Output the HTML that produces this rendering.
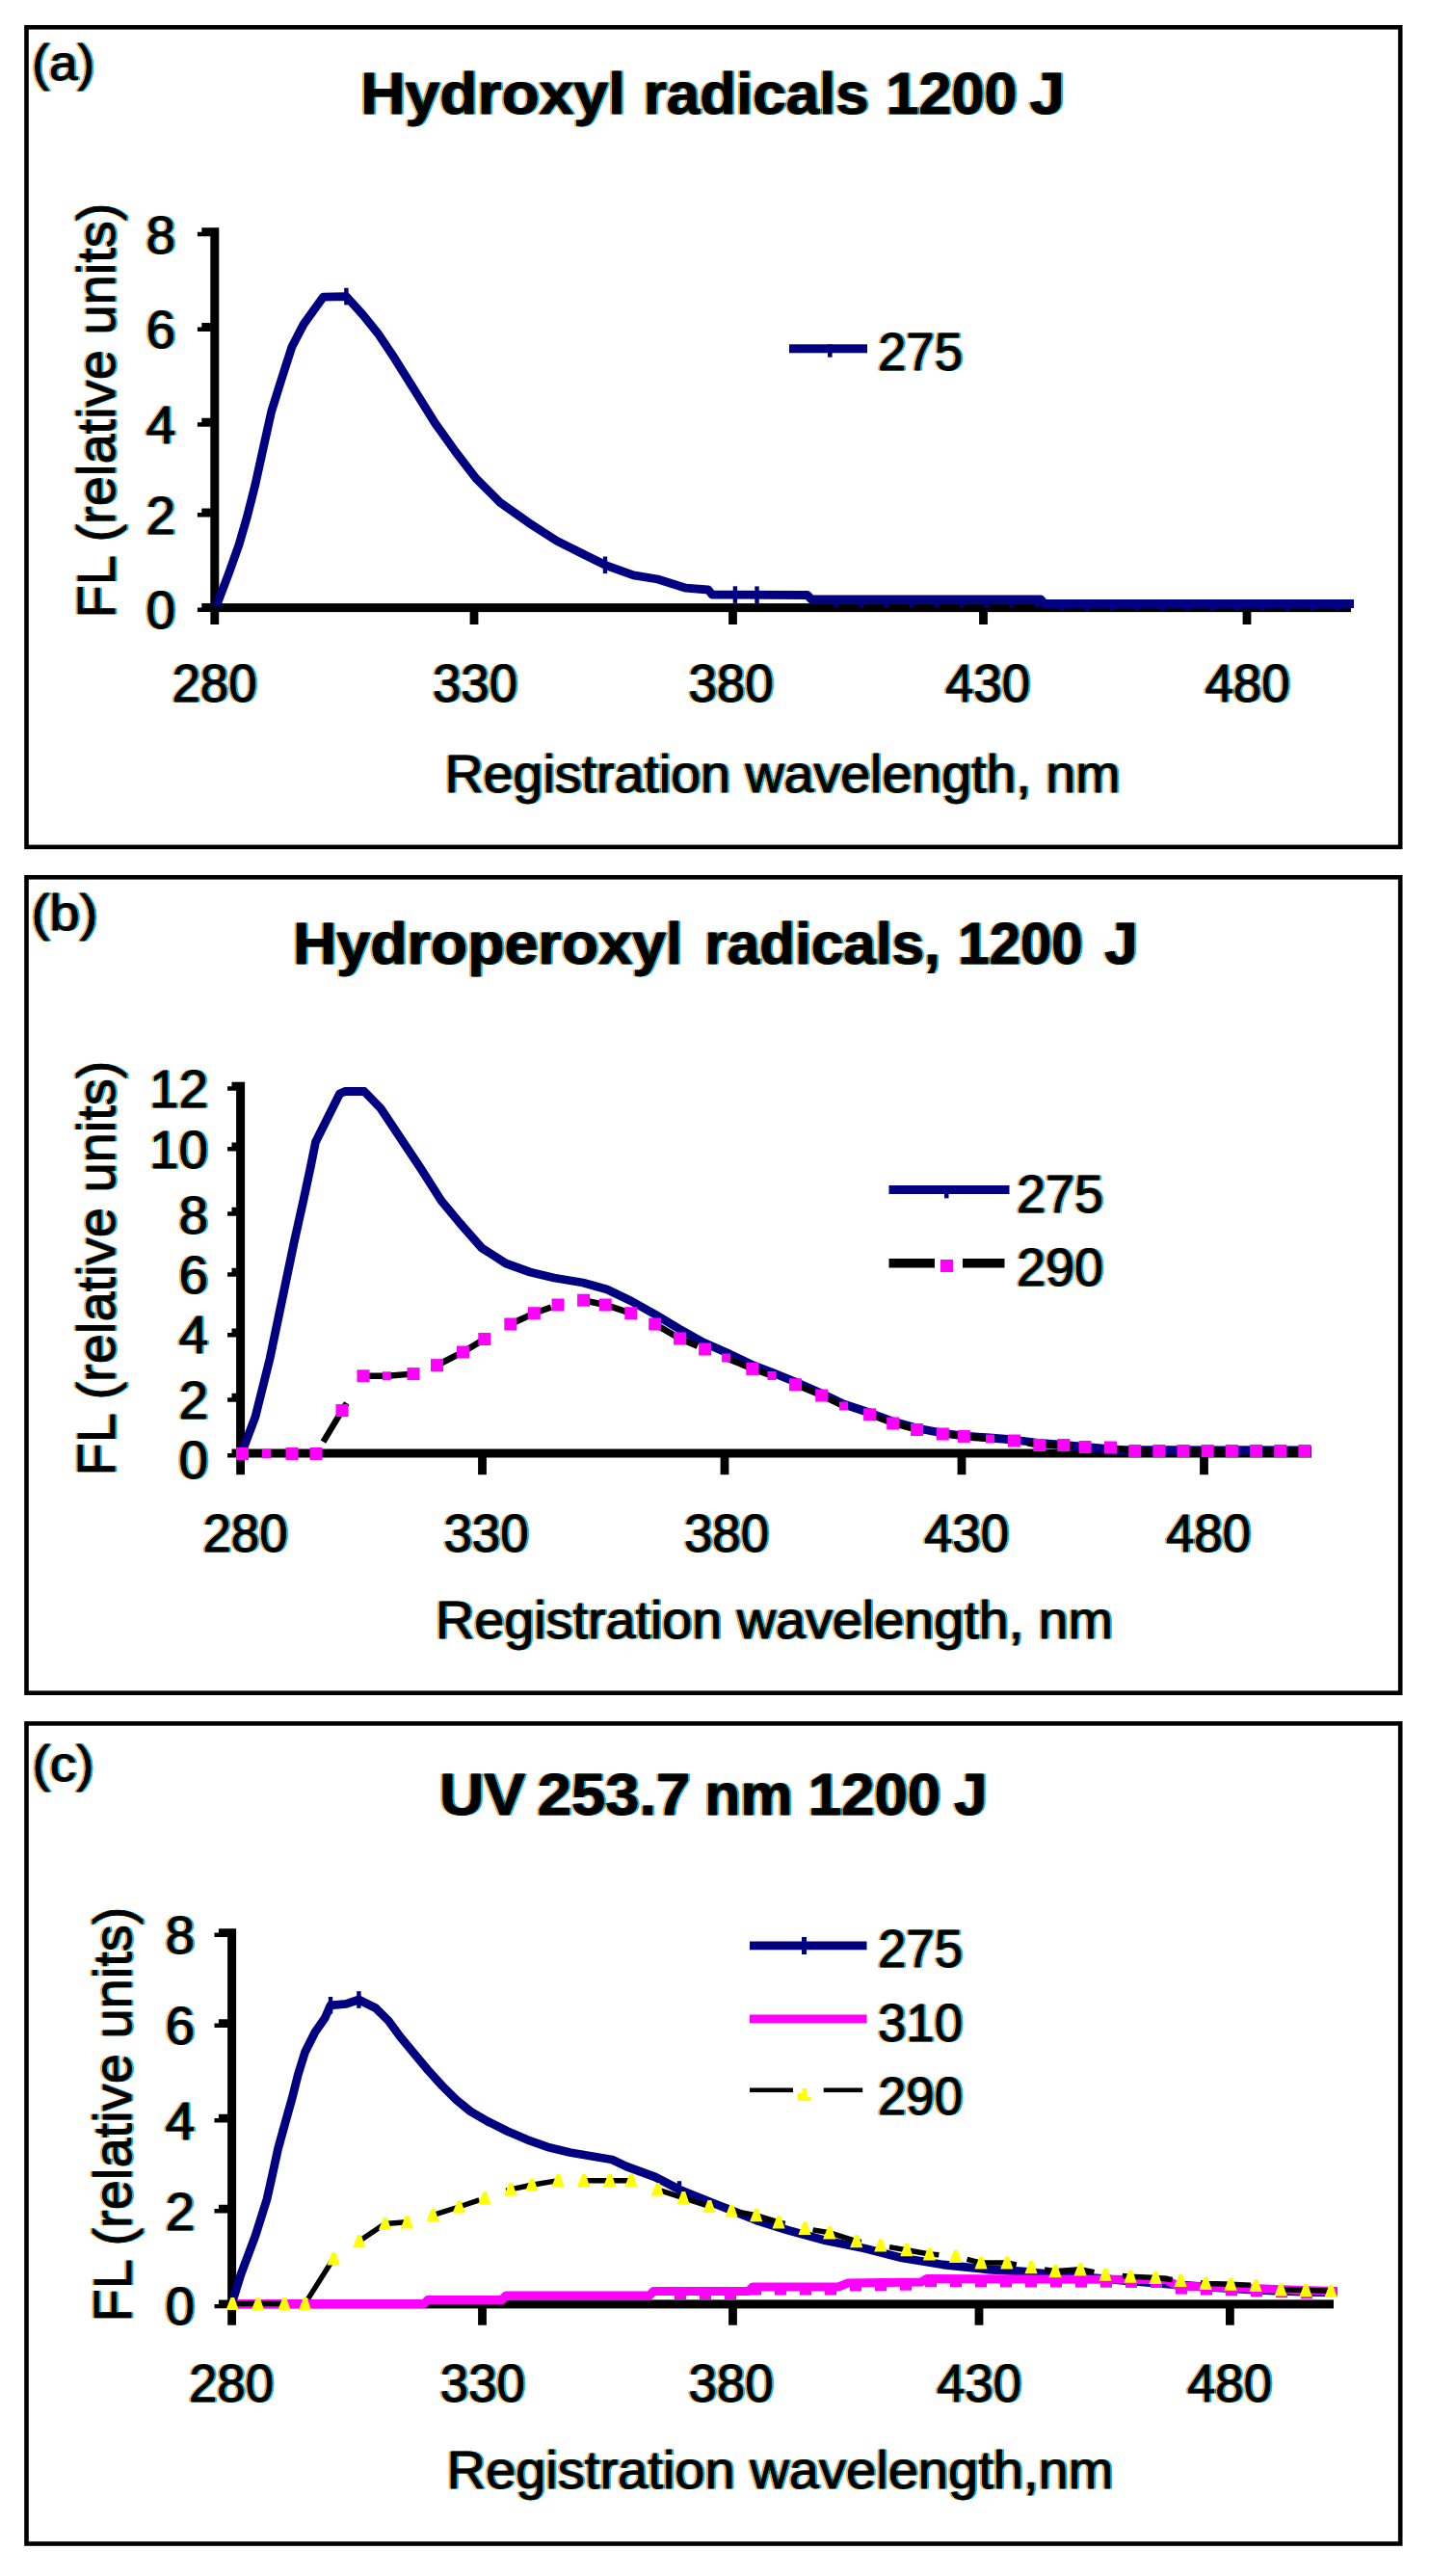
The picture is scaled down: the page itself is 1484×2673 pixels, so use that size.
<!DOCTYPE html>
<html><head><meta charset="utf-8"><title>Figure</title>
<style>html,body{margin:0;padding:0;background:#fff}svg{display:block}text{font-family:"Liberation Sans",sans-serif;fill:#000;stroke:#000;stroke-width:0.8px;stroke-linejoin:round}</style>
</head><body>
<svg width="1484" height="2673" viewBox="0 0 1484 2673">
<rect width="1484" height="2673" fill="#fff"/>
<g id="pa">
<rect x="27.50" y="28.30" width="1425.70" height="850.60" fill="#fff" stroke="#000" stroke-width="4.6"/>
<rect x="218.3" y="236.2" width="9" height="398.9" fill="#000"/>
<rect x="218.3" y="626.1" width="1183.7" height="9" fill="#000"/>
<path d="M218.8 236.25H209.3V240.70H204.9V245.15H218.8Z" fill="#000"/>
<path d="M218.8 335.05H209.3V339.50H204.9V343.95H218.8Z" fill="#000"/>
<path d="M218.8 433.85H209.3V438.30H204.9V442.75H218.8Z" fill="#000"/>
<path d="M218.8 527.55H209.3V532.00H204.9V536.45H218.8Z" fill="#000"/>
<path d="M218.8 626.05H209.3V630.50H204.9V634.95H218.8Z" fill="#000"/>
<rect x="218.4" y="630.6" width="8.8" height="17.4" fill="#000"/>
<rect x="487.6" y="630.6" width="8.8" height="17.4" fill="#000"/>
<rect x="756.1" y="630.6" width="8.8" height="17.4" fill="#000"/>
<rect x="1016.1" y="630.6" width="8.8" height="17.4" fill="#000"/>
<rect x="1289.6" y="630.6" width="8.8" height="17.4" fill="#000"/>
<polyline points="224.5,629.0 237.5,594.7 248.0,565.3 256.5,536.0 265.0,502.4 273.3,464.6 281.7,426.9 292.2,393.3 303.0,359.7 315.0,336.6 327.0,319.9 335.5,308.2 359.4,307.6 376.2,326.2 393.0,347.1 409.8,372.3 430.8,405.9 451.7,439.4 472.7,468.8 493.7,496.1 518.9,521.3 548.3,542.2 577.6,561.1 602.8,573.7 628.0,586.3 657.4,596.8 682.5,601.0 711.9,610.2 735.0,612.0 739.0,617.0 838.0,617.5 842.0,622.0 1080.0,622.0 1084.0,626.5 1405.0,626.5" fill="none" stroke="#000080" stroke-width="8.8" stroke-linejoin="round"/>
<rect x="357.2" y="298.8" width="4.4" height="17.6" fill="#000080"/>
<rect x="625.8" y="577.5" width="4.4" height="17.6" fill="#000080"/>
<rect x="760.7" y="608.3" width="4.4" height="17.6" fill="#000080"/>
<rect x="783.3" y="608.4" width="4.4" height="17.6" fill="#000080"/>
<rect x="866" y="626" width="4.4" height="4.6" fill="#000080"/>
<rect x="892" y="626" width="4.4" height="4.6" fill="#000080"/>
<rect x="918" y="626" width="4.4" height="4.6" fill="#000080"/>
<rect x="944" y="626" width="4.4" height="4.6" fill="#000080"/>
<rect x="970" y="626" width="4.4" height="4.6" fill="#000080"/>
<rect x="996" y="626" width="4.4" height="4.6" fill="#000080"/>
<rect x="1022" y="626" width="4.4" height="4.6" fill="#000080"/>
<rect x="1048" y="626" width="4.4" height="4.6" fill="#000080"/>
<rect x="1074" y="626" width="4.4" height="4.6" fill="#000080"/>
<rect x="1100" y="629.5" width="4.4" height="4.6" fill="#000080"/>
<rect x="1126" y="629.5" width="4.4" height="4.6" fill="#000080"/>
<rect x="1152" y="629.5" width="4.4" height="4.6" fill="#000080"/>
<rect x="1178" y="629.5" width="4.4" height="4.6" fill="#000080"/>
<rect x="1204" y="629.5" width="4.4" height="4.6" fill="#000080"/>
<rect x="1230" y="629.5" width="4.4" height="4.6" fill="#000080"/>
<rect x="1256" y="629.5" width="4.4" height="4.6" fill="#000080"/>
<rect x="1282" y="629.5" width="4.4" height="4.6" fill="#000080"/>
<rect x="1308" y="629.5" width="4.4" height="4.6" fill="#000080"/>
<rect x="1334" y="629.5" width="4.4" height="4.6" fill="#000080"/>
<rect x="1360" y="629.5" width="4.4" height="4.6" fill="#000080"/>
<rect x="1386" y="629.5" width="4.4" height="4.6" fill="#000080"/>
<rect x="819" y="357.3" width="81" height="9" fill="#000080"/>
<rect x="859" y="357.3" width="4.6" height="13.4" fill="#000080"/>
</g>
<g id="pb">
<rect x="27.50" y="910.30" width="1425.70" height="846.40" fill="#fff" stroke="#000" stroke-width="4.6"/>
<rect x="245.1" y="1122.7" width="9" height="389.8" fill="#000"/>
<rect x="245.1" y="1503.5" width="1115.9" height="9" fill="#000"/>
<path d="M245.6 1122.75H240.5V1127.20H236.1V1131.65H245.6Z" fill="#000"/>
<path d="M245.6 1185.55H240.5V1190.00H236.1V1194.45H245.6Z" fill="#000"/>
<path d="M245.6 1252.85H240.5V1257.30H236.1V1261.75H245.6Z" fill="#000"/>
<path d="M245.6 1315.75H240.5V1320.20H236.1V1324.65H245.6Z" fill="#000"/>
<path d="M245.6 1378.55H240.5V1383.00H236.1V1387.45H245.6Z" fill="#000"/>
<path d="M245.6 1445.85H240.5V1450.30H236.1V1454.75H245.6Z" fill="#000"/>
<path d="M245.6 1503.55H240.5V1508.00H236.1V1512.45H245.6Z" fill="#000"/>
<rect x="245.2" y="1508" width="8.8" height="22.2" fill="#000"/>
<rect x="496.1" y="1508" width="8.8" height="22.2" fill="#000"/>
<rect x="747.6" y="1508" width="8.8" height="22.2" fill="#000"/>
<rect x="993.6" y="1508" width="8.8" height="22.2" fill="#000"/>
<rect x="1245.1" y="1508" width="8.8" height="22.2" fill="#000"/>
<polyline points="251.5,1506.0 265.0,1470.0 280.0,1410.0 292.5,1350.0 305.0,1290.0 315.0,1245.0 322.5,1210.0 327.5,1185.0 340.0,1160.0 352.5,1135.0 358.0,1132.5 378.0,1132.5 395.0,1150.0 415.0,1180.0 437.0,1213.0 458.0,1246.0 478.0,1270.0 500.0,1295.0 525.0,1311.0 550.0,1320.0 575.0,1326.0 605.0,1331.0 630.0,1338.0 655.0,1350.0 680.0,1364.0 705.0,1379.0 730.0,1393.0 755.0,1404.0 780.0,1416.0 801.0,1424.0 825.5,1434.0 852.7,1446.0 875.5,1457.0 902.6,1466.0 926.7,1475.0 951.6,1482.0 978.0,1487.0 1000.0,1490.0 1027.0,1492.0 1052.0,1494.0 1079.0,1497.5 1104.0,1499.5 1126.0,1501.5 1160.0,1504.5 1361.0,1505.0" fill="none" stroke="#000080" stroke-width="8.8" stroke-linejoin="round"/>
<polyline points="251.5,1508.5 276.5,1508.5 303.0,1508.5 328.0,1508.5 355.0,1463.6 377.0,1427.8 401.3,1427.8 429.0,1425.6 453.5,1416.6 480.5,1403.0 502.8,1389.5 529.8,1374.0 554.3,1362.7 579.0,1354.0 605.6,1349.2 628.2,1354.0 654.8,1362.7 679.7,1374.0 705.6,1389.0 731.6,1400.0 753.6,1409.0 780.8,1420.4 801.0,1427.5 825.5,1436.8 852.7,1448.0 875.5,1459.0 902.6,1467.8 926.7,1477.0 951.6,1483.5 978.3,1488.0 1000.3,1490.4 1027.5,1493.0 1052.4,1495.0 1078.9,1499.5 1103.8,1499.5 1126.0,1501.5 1152.5,1502.0 1177.7,1505.5 1202.9,1505.5 1228.0,1505.5 1253.2,1505.5 1278.4,1505.5 1303.6,1505.5 1328.7,1505.5 1353.9,1505.5" fill="none" stroke="#000" stroke-width="6.5" stroke-dasharray="47 34.4" stroke-dashoffset="71.8"/>
<rect x="245.0" y="1502.0" width="13" height="13" fill="#ff00ff"/>
<rect x="272.0" y="1504.0" width="9" height="9" fill="#ff00ff"/>
<rect x="296.5" y="1502.0" width="13" height="13" fill="#ff00ff"/>
<rect x="321.5" y="1502.0" width="13" height="13" fill="#ff00ff"/>
<rect x="348.5" y="1457.1" width="13" height="13" fill="#ff00ff"/>
<rect x="370.5" y="1421.3" width="13" height="13" fill="#ff00ff"/>
<rect x="396.8" y="1423.3" width="9" height="9" fill="#ff00ff"/>
<rect x="422.5" y="1419.1" width="13" height="13" fill="#ff00ff"/>
<rect x="447.0" y="1410.1" width="13" height="13" fill="#ff00ff"/>
<rect x="474.0" y="1396.5" width="13" height="13" fill="#ff00ff"/>
<rect x="496.3" y="1383.0" width="13" height="13" fill="#ff00ff"/>
<rect x="523.3" y="1367.5" width="13" height="13" fill="#ff00ff"/>
<rect x="547.8" y="1356.2" width="13" height="13" fill="#ff00ff"/>
<rect x="572.5" y="1347.5" width="13" height="13" fill="#ff00ff"/>
<rect x="599.1" y="1342.7" width="13" height="13" fill="#ff00ff"/>
<rect x="621.7" y="1347.5" width="13" height="13" fill="#ff00ff"/>
<rect x="648.3" y="1356.2" width="13" height="13" fill="#ff00ff"/>
<rect x="673.2" y="1367.5" width="13" height="13" fill="#ff00ff"/>
<rect x="699.1" y="1382.5" width="13" height="13" fill="#ff00ff"/>
<rect x="725.1" y="1393.5" width="13" height="13" fill="#ff00ff"/>
<rect x="749.1" y="1404.5" width="9" height="9" fill="#ff00ff"/>
<rect x="774.3" y="1413.9" width="13" height="13" fill="#ff00ff"/>
<rect x="796.5" y="1423.0" width="9" height="9" fill="#ff00ff"/>
<rect x="819.0" y="1430.3" width="13" height="13" fill="#ff00ff"/>
<rect x="846.2" y="1441.5" width="13" height="13" fill="#ff00ff"/>
<rect x="871.0" y="1454.5" width="9" height="9" fill="#ff00ff"/>
<rect x="896.1" y="1461.3" width="13" height="13" fill="#ff00ff"/>
<rect x="920.2" y="1470.5" width="13" height="13" fill="#ff00ff"/>
<rect x="945.1" y="1477.0" width="13" height="13" fill="#ff00ff"/>
<rect x="971.8" y="1481.5" width="13" height="13" fill="#ff00ff"/>
<rect x="993.8" y="1483.9" width="13" height="13" fill="#ff00ff"/>
<rect x="1023.0" y="1488.5" width="9" height="9" fill="#ff00ff"/>
<rect x="1045.9" y="1488.5" width="13" height="13" fill="#ff00ff"/>
<rect x="1072.4" y="1493.0" width="13" height="13" fill="#ff00ff"/>
<rect x="1097.3" y="1493.0" width="13" height="13" fill="#ff00ff"/>
<rect x="1119.5" y="1495.0" width="13" height="13" fill="#ff00ff"/>
<rect x="1146.0" y="1495.5" width="13" height="13" fill="#ff00ff"/>
<rect x="1171.2" y="1499.0" width="13" height="13" fill="#ff00ff"/>
<rect x="1196.4" y="1499.0" width="13" height="13" fill="#ff00ff"/>
<rect x="1221.5" y="1499.0" width="13" height="13" fill="#ff00ff"/>
<rect x="1246.7" y="1499.0" width="13" height="13" fill="#ff00ff"/>
<rect x="1271.9" y="1499.0" width="13" height="13" fill="#ff00ff"/>
<rect x="1297.1" y="1499.0" width="13" height="13" fill="#ff00ff"/>
<rect x="1322.2" y="1499.0" width="13" height="13" fill="#ff00ff"/>
<rect x="1347.4" y="1499.0" width="13" height="13" fill="#ff00ff"/>
<rect x="922.5" y="1230" width="125" height="9" fill="#000080"/>
<rect x="980" y="1230" width="4.5" height="13.4" fill="#000080"/>
<rect x="922.5" y="1306" width="47.5" height="9.5" fill="#000"/>
<rect x="999" y="1306" width="43.5" height="9.5" fill="#000"/>
<rect x="976" y="1307" width="13" height="13" fill="#ff00ff"/>
</g>
<g id="pc">
<rect x="27.50" y="1788.40" width="1425.70" height="851.10" fill="#fff" stroke="#000" stroke-width="4.6"/>
<rect x="236.1" y="2001.2" width="9" height="394.2" fill="#000"/>
<rect x="236.1" y="2386.4" width="1147.9" height="9" fill="#000"/>
<path d="M236.6 2001.15H226.9V2005.60H222.5V2010.05H236.6Z" fill="#000"/>
<path d="M236.6 2095.15H226.9V2099.60H222.5V2104.05H236.6Z" fill="#000"/>
<path d="M236.6 2193.65H226.9V2198.10H222.5V2202.55H236.6Z" fill="#000"/>
<path d="M236.6 2287.65H226.9V2292.10H222.5V2296.55H236.6Z" fill="#000"/>
<path d="M236.6 2386.45H226.9V2390.90H222.5V2395.35H236.6Z" fill="#000"/>
<rect x="236.2" y="2390.9" width="8.8" height="21.8" fill="#000"/>
<rect x="496.1" y="2390.9" width="8.8" height="21.8" fill="#000"/>
<rect x="756.1" y="2390.9" width="8.8" height="21.8" fill="#000"/>
<rect x="1011.6" y="2390.9" width="8.8" height="21.8" fill="#000"/>
<rect x="1272.0" y="2390.9" width="8.8" height="21.8" fill="#000"/>
<polyline points="241.0,2389.0 250.0,2360.0 265.0,2320.0 277.0,2282.0 282.9,2255.6 288.7,2229.0 296.0,2202.7 303.4,2176.3 309.3,2152.8 316.6,2129.3 326.9,2108.7 337.2,2094.0 343.0,2080.8 359.2,2079.4 372.4,2075.0 390.0,2083.8 403.3,2097.0 415.0,2113.0 429.7,2130.8 444.4,2148.4 459.0,2164.5 473.8,2179.2 488.4,2191.0 506.0,2201.2 526.6,2211.5 547.2,2220.3 567.7,2227.7 591.2,2233.5 617.7,2238.0 635.3,2241.0 650.0,2248.0 680.0,2259.0 705.0,2272.0 745.0,2288.0 785.0,2304.0 817.0,2314.0 857.0,2325.0 897.0,2333.0 936.0,2343.0 979.0,2350.0 1026.0,2355.0 1061.0,2357.0 1100.0,2361.0 1150.0,2365.0 1200.0,2369.0 1250.0,2373.0 1300.0,2376.0 1350.0,2378.0 1387.5,2379.0" fill="none" stroke="#000080" stroke-width="8.8" stroke-linejoin="round"/>
<rect x="370.2" y="2066.2" width="4.4" height="17.6" fill="#000080"/>
<rect x="340.8" y="2072.0" width="4.4" height="17.6" fill="#000080"/>
<rect x="289.8" y="2208.3" width="4.4" height="17.6" fill="#000080"/>
<rect x="702.8" y="2263.2" width="4.4" height="17.6" fill="#000080"/>
<polyline points="246.0,2390.5 440.0,2390.5 444.0,2386.5 521.0,2386.5 525.0,2382.0 674.0,2382.0 678.0,2377.5 777.0,2377.5 781.0,2373.0 870.0,2373.0 880.0,2369.0 956.0,2368.0 962.0,2364.5 1210.0,2365.5 1222.0,2372.0 1300.0,2374.5 1350.0,2376.5 1388.0,2377.5" fill="none" stroke="#ff00ff" stroke-width="9" stroke-linejoin="round"/>
<rect x="700" y="2379.5" width="12" height="6.5" fill="#ff00ff"/>
<rect x="726" y="2379.5" width="12" height="6.5" fill="#ff00ff"/>
<rect x="752" y="2379.5" width="12" height="6.5" fill="#ff00ff"/>
<rect x="778" y="2375.0" width="12" height="6.5" fill="#ff00ff"/>
<rect x="804" y="2375.0" width="12" height="6.5" fill="#ff00ff"/>
<rect x="830" y="2375.0" width="12" height="6.5" fill="#ff00ff"/>
<rect x="856" y="2375.0" width="12" height="6.5" fill="#ff00ff"/>
<rect x="882" y="2370.9" width="12" height="6.5" fill="#ff00ff"/>
<rect x="908" y="2370.6" width="12" height="6.5" fill="#ff00ff"/>
<rect x="934" y="2370.2" width="12" height="6.5" fill="#ff00ff"/>
<rect x="960" y="2366.5" width="12" height="6.5" fill="#ff00ff"/>
<rect x="986" y="2366.6" width="12" height="6.5" fill="#ff00ff"/>
<rect x="1012" y="2366.7" width="12" height="6.5" fill="#ff00ff"/>
<rect x="1038" y="2366.8" width="12" height="6.5" fill="#ff00ff"/>
<rect x="1064" y="2366.9" width="12" height="6.5" fill="#ff00ff"/>
<rect x="1090" y="2367.0" width="12" height="6.5" fill="#ff00ff"/>
<rect x="1116" y="2367.1" width="12" height="6.5" fill="#ff00ff"/>
<rect x="1142" y="2367.2" width="12" height="6.5" fill="#ff00ff"/>
<rect x="1168" y="2367.4" width="12" height="6.5" fill="#ff00ff"/>
<rect x="1194" y="2367.5" width="12" height="6.5" fill="#ff00ff"/>
<rect x="1220" y="2374.1" width="12" height="6.5" fill="#ff00ff"/>
<rect x="1246" y="2375.0" width="12" height="6.5" fill="#ff00ff"/>
<rect x="1272" y="2375.8" width="12" height="6.5" fill="#ff00ff"/>
<rect x="1298" y="2376.7" width="12" height="6.5" fill="#ff00ff"/>
<rect x="1324" y="2377.7" width="12" height="6.5" fill="#ff00ff"/>
<rect x="1350" y="2378.7" width="12" height="6.5" fill="#ff00ff"/>
<polyline points="241.0,2390.5 267.5,2390.5 295.0,2390.5 316.4,2390.6 346.0,2343.8 372.7,2325.6 399.5,2307.5 422.3,2305.8 449.0,2298.7 476.2,2290.0 502.8,2281.0 529.8,2271.9 551.8,2267.2 579.0,2262.7 605.6,2262.7 632.6,2262.7 654.8,2262.7 682.3,2271.9 709.0,2280.6 736.0,2289.5 759.0,2294.0 784.7,2298.7 808.0,2305.8 835.0,2312.4 860.7,2316.8 888.7,2325.6 913.7,2330.0 940.8,2334.7 964.4,2339.0 991.5,2341.3 1018.0,2348.0 1044.8,2348.0 1070.0,2352.6 1095.0,2356.7 1121.0,2354.8 1147.0,2360.2 1173.0,2362.2 1199.0,2363.4 1225.0,2366.5 1251.0,2369.4 1277.0,2370.2 1303.0,2371.5 1329.0,2375.8 1355.0,2376.6 1381.0,2377.3" fill="none" stroke="#000" stroke-width="5.5" stroke-dasharray="52 29.6" stroke-dashoffset="0"/>
<path d="M234.4 2397.1H247.6L243.2 2383.9H239.5Z" fill="#ffff00"/>
<path d="M260.9 2397.1H274.1L269.7 2383.9H266.0Z" fill="#ffff00"/>
<path d="M288.4 2397.1H301.6L297.2 2383.9H293.5Z" fill="#ffff00"/>
<path d="M309.8 2397.2H323.0L318.6 2384.0H314.9Z" fill="#ffff00"/>
<path d="M339.4 2350.4H352.6L348.2 2337.2H344.5Z" fill="#ffff00"/>
<path d="M366.1 2332.2H379.3L374.9 2319.0H371.2Z" fill="#ffff00"/>
<path d="M392.9 2314.1H406.1L401.7 2300.9H398.0Z" fill="#ffff00"/>
<path d="M415.7 2312.4H428.9L424.5 2299.2H420.8Z" fill="#ffff00"/>
<path d="M442.4 2305.3H455.6L451.2 2292.1H447.5Z" fill="#ffff00"/>
<path d="M469.6 2296.6H482.8L478.4 2283.4H474.7Z" fill="#ffff00"/>
<path d="M496.2 2287.6H509.4L505.0 2274.4H501.3Z" fill="#ffff00"/>
<path d="M523.2 2278.5H536.4L532.0 2265.3H528.3Z" fill="#ffff00"/>
<path d="M545.2 2273.8H558.4L554.0 2260.6H550.3Z" fill="#ffff00"/>
<path d="M572.4 2269.3H585.6L581.2 2256.1H577.5Z" fill="#ffff00"/>
<path d="M599.0 2269.3H612.2L607.8 2256.1H604.1Z" fill="#ffff00"/>
<path d="M626.0 2269.3H639.2L634.8 2256.1H631.1Z" fill="#ffff00"/>
<path d="M648.2 2269.3H661.4L657.0 2256.1H653.3Z" fill="#ffff00"/>
<path d="M675.7 2278.5H688.9L684.5 2265.3H680.8Z" fill="#ffff00"/>
<path d="M702.4 2287.2H715.6L711.2 2274.0H707.5Z" fill="#ffff00"/>
<path d="M729.4 2296.1H742.6L738.2 2282.9H734.5Z" fill="#ffff00"/>
<path d="M752.4 2300.6H765.6L761.2 2287.4H757.5Z" fill="#ffff00"/>
<path d="M778.1 2305.3H791.3L786.9 2292.1H783.2Z" fill="#ffff00"/>
<path d="M801.4 2312.4H814.6L810.2 2299.2H806.5Z" fill="#ffff00"/>
<path d="M828.4 2319.0H841.6L837.2 2305.8H833.5Z" fill="#ffff00"/>
<path d="M854.1 2323.4H867.3L862.9 2310.2H859.2Z" fill="#ffff00"/>
<path d="M882.1 2332.2H895.3L890.9 2319.0H887.2Z" fill="#ffff00"/>
<path d="M907.1 2336.6H920.3L915.9 2323.4H912.2Z" fill="#ffff00"/>
<path d="M934.2 2341.3H947.4L943.0 2328.1H939.3Z" fill="#ffff00"/>
<path d="M957.8 2345.6H971.0L966.6 2332.4H962.9Z" fill="#ffff00"/>
<path d="M984.9 2347.9H998.1L993.7 2334.7H990.0Z" fill="#ffff00"/>
<path d="M1011.4 2354.6H1024.6L1020.2 2341.4H1016.5Z" fill="#ffff00"/>
<path d="M1038.2 2354.6H1051.4L1047.0 2341.4H1043.3Z" fill="#ffff00"/>
<path d="M1063.4 2359.2H1076.6L1072.2 2346.0H1068.5Z" fill="#ffff00"/>
<path d="M1088.4 2363.3H1101.6L1097.2 2350.1H1093.5Z" fill="#ffff00"/>
<path d="M1114.4 2361.4H1127.6L1123.2 2348.2H1119.5Z" fill="#ffff00"/>
<path d="M1140.4 2366.8H1153.6L1149.2 2353.6H1145.5Z" fill="#ffff00"/>
<path d="M1166.4 2368.8H1179.6L1175.2 2355.6H1171.5Z" fill="#ffff00"/>
<path d="M1192.4 2370.0H1205.6L1201.2 2356.8H1197.5Z" fill="#ffff00"/>
<path d="M1218.4 2373.1H1231.6L1227.2 2359.9H1223.5Z" fill="#ffff00"/>
<path d="M1244.4 2376.0H1257.6L1253.2 2362.8H1249.5Z" fill="#ffff00"/>
<path d="M1270.4 2376.8H1283.6L1279.2 2363.6H1275.5Z" fill="#ffff00"/>
<path d="M1296.4 2378.1H1309.6L1305.2 2364.9H1301.5Z" fill="#ffff00"/>
<path d="M1322.4 2382.4H1335.6L1331.2 2369.2H1327.5Z" fill="#ffff00"/>
<path d="M1348.4 2383.2H1361.6L1357.2 2370.0H1353.5Z" fill="#ffff00"/>
<path d="M1374.4 2383.9H1387.6L1383.2 2370.7H1379.5Z" fill="#ffff00"/>
<rect x="778" y="2014.5" width="121.5" height="8.8" fill="#000080"/>
<rect x="832" y="2010" width="5" height="18" fill="#000080"/>
<rect x="778" y="2090.5" width="121.5" height="8.8" fill="#ff00ff"/>
<rect x="778" y="2166.5" width="45" height="4.6" fill="#000"/>
<rect x="854.7" y="2166.5" width="40.5" height="4.6" fill="#000"/>
<path d="M828 2180H841V2176H837V2167H832.5V2172H828Z" fill="#ffff00"/>
</g>
<defs><filter id="ct" filterUnits="userSpaceOnUse" x="0" y="0" width="1484" height="2673" color-interpolation-filters="sRGB"><feOffset in="SourceGraphic" dx="-2.2" result="L"/><feColorMatrix in="L" type="matrix" values="0 0 0 0 1  0 0 0 0 0.65  0 0 0 0 0.15  0 0 0 1 0" result="Ly"/><feOffset in="SourceGraphic" dx="2.2" result="R"/><feColorMatrix in="R" type="matrix" values="0 0 0 0 0  0 0 0 0 0.7  0 0 0 0 1  0 0 0 1 0" result="Rc"/><feBlend mode="multiply" in="Ly" in2="Rc" result="b1"/><feBlend mode="multiply" in="b1" in2="SourceGraphic" result="b2"/><feGaussianBlur in="b2" stdDeviation="0.7"/></filter></defs>
<g filter="url(#ct)">
<text x="33.3" y="83" font-size="52" textLength="65" lengthAdjust="spacingAndGlyphs">(a)</text>
<text x="511.5" y="118" font-size="61" text-anchor="middle" font-weight="bold" textLength="274.7" lengthAdjust="spacingAndGlyphs">Hydroxyl</text>
<text x="784.7" y="118" font-size="61" text-anchor="middle" font-weight="bold" textLength="233.9" lengthAdjust="spacingAndGlyphs">radicals</text>
<text x="987.5" y="118" font-size="61" text-anchor="middle" font-weight="bold" textLength="136.0" lengthAdjust="spacingAndGlyphs">1200</text>
<text x="1086.8" y="118" font-size="61" text-anchor="middle" font-weight="bold" textLength="36.6" lengthAdjust="spacingAndGlyphs">J</text>
<text x="182" y="262.6" font-size="55" text-anchor="end">8</text>
<text x="182" y="360.8" font-size="55" text-anchor="end">6</text>
<text x="182" y="459.6" font-size="55" text-anchor="end">4</text>
<text x="182" y="553.8" font-size="55" text-anchor="end">2</text>
<text x="182" y="651.6" font-size="55" text-anchor="end">0</text>
<text x="222.5" y="728" font-size="55" text-anchor="middle" textLength="88" lengthAdjust="spacingAndGlyphs">280</text>
<text x="493" y="728" font-size="55" text-anchor="middle" textLength="88" lengthAdjust="spacingAndGlyphs">330</text>
<text x="758.5" y="728" font-size="55" text-anchor="middle" textLength="88" lengthAdjust="spacingAndGlyphs">380</text>
<text x="1025" y="728" font-size="55" text-anchor="middle" textLength="88" lengthAdjust="spacingAndGlyphs">430</text>
<text x="1294.5" y="728" font-size="55" text-anchor="middle" textLength="88" lengthAdjust="spacingAndGlyphs">480</text>
<text x="812" y="821.5" font-size="55" text-anchor="middle" textLength="701" lengthAdjust="spacingAndGlyphs">Registration wavelength, nm</text>
<text x="118.5" y="426" font-size="55" text-anchor="middle" textLength="431" lengthAdjust="spacingAndGlyphs" transform="rotate(-90 118.5 426)">FL (relative units)</text>
<text x="911" y="383.8" font-size="55" textLength="88" lengthAdjust="spacingAndGlyphs">275</text>
<text x="32.5" y="964.5" font-size="52" textLength="69" lengthAdjust="spacingAndGlyphs">(b)</text>
<text x="506.1" y="1000.3" font-size="61" text-anchor="middle" font-weight="bold" textLength="404.2" lengthAdjust="spacingAndGlyphs">Hydroperoxyl</text>
<text x="853.5" y="1000.3" font-size="61" text-anchor="middle" font-weight="bold" textLength="244.4" lengthAdjust="spacingAndGlyphs">radicals,</text>
<text x="1059.0" y="1000.3" font-size="61" text-anchor="middle" font-weight="bold" textLength="129.4" lengthAdjust="spacingAndGlyphs">1200</text>
<text x="1163.5" y="1000.3" font-size="61" text-anchor="middle" font-weight="bold" textLength="34.5" lengthAdjust="spacingAndGlyphs">J</text>
<text x="216" y="1149.3" font-size="55" text-anchor="end" textLength="61" lengthAdjust="spacingAndGlyphs">12</text>
<text x="216" y="1212.2" font-size="55" text-anchor="end" textLength="61" lengthAdjust="spacingAndGlyphs">10</text>
<text x="216" y="1279.5" font-size="55" text-anchor="end">8</text>
<text x="216" y="1342" font-size="55" text-anchor="end">6</text>
<text x="216" y="1404.4" font-size="55" text-anchor="end">4</text>
<text x="216" y="1471.7" font-size="55" text-anchor="end">2</text>
<text x="216" y="1534.2" font-size="55" text-anchor="end">0</text>
<text x="254.5" y="1610.4" font-size="55" text-anchor="middle" textLength="88" lengthAdjust="spacingAndGlyphs">280</text>
<text x="504.5" y="1610.4" font-size="55" text-anchor="middle" textLength="88" lengthAdjust="spacingAndGlyphs">330</text>
<text x="754" y="1610.4" font-size="55" text-anchor="middle" textLength="88" lengthAdjust="spacingAndGlyphs">380</text>
<text x="1003" y="1610.4" font-size="55" text-anchor="middle" textLength="88" lengthAdjust="spacingAndGlyphs">430</text>
<text x="1254" y="1610.4" font-size="55" text-anchor="middle" textLength="88" lengthAdjust="spacingAndGlyphs">480</text>
<text x="803.5" y="1699.8" font-size="55" text-anchor="middle" textLength="703" lengthAdjust="spacingAndGlyphs">Registration wavelength, nm</text>
<text x="118.5" y="1316" font-size="55" text-anchor="middle" textLength="431" lengthAdjust="spacingAndGlyphs" transform="rotate(-90 118.5 1316)">FL (relative units)</text>
<text x="1055" y="1257.5" font-size="55" textLength="90" lengthAdjust="spacingAndGlyphs">275</text>
<text x="1055" y="1334" font-size="55" textLength="90" lengthAdjust="spacingAndGlyphs">290</text>
<text x="33.5" y="1847.7" font-size="52" textLength="64" lengthAdjust="spacingAndGlyphs">(c)</text>
<text x="500.5" y="1882.8" font-size="61" text-anchor="middle" font-weight="bold" textLength="89.0" lengthAdjust="spacingAndGlyphs">UV</text>
<text x="637.0" y="1882.8" font-size="61" text-anchor="middle" font-weight="bold" textLength="158.5" lengthAdjust="spacingAndGlyphs">253.7</text>
<text x="776.9" y="1882.8" font-size="61" text-anchor="middle" font-weight="bold" textLength="91.2" lengthAdjust="spacingAndGlyphs">nm</text>
<text x="907.5" y="1882.8" font-size="61" text-anchor="middle" font-weight="bold" textLength="137.5" lengthAdjust="spacingAndGlyphs">1200</text>
<text x="1007.2" y="1882.8" font-size="61" text-anchor="middle" font-weight="bold" textLength="34.5" lengthAdjust="spacingAndGlyphs">J</text>
<text x="202" y="2027.3" font-size="55" text-anchor="end">8</text>
<text x="202" y="2121.3" font-size="55" text-anchor="end">6</text>
<text x="202" y="2220" font-size="55" text-anchor="end">4</text>
<text x="202" y="2313.8" font-size="55" text-anchor="end">2</text>
<text x="202" y="2412.2" font-size="55" text-anchor="end">0</text>
<text x="240" y="2492" font-size="55" text-anchor="middle" textLength="88" lengthAdjust="spacingAndGlyphs">280</text>
<text x="500.8" y="2492" font-size="55" text-anchor="middle" textLength="88" lengthAdjust="spacingAndGlyphs">330</text>
<text x="758.5" y="2492" font-size="55" text-anchor="middle" textLength="88" lengthAdjust="spacingAndGlyphs">380</text>
<text x="1016" y="2492" font-size="55" text-anchor="middle" textLength="88" lengthAdjust="spacingAndGlyphs">430</text>
<text x="1276" y="2492" font-size="55" text-anchor="middle" textLength="88" lengthAdjust="spacingAndGlyphs">480</text>
<text x="809.5" y="2582" font-size="55" text-anchor="middle" textLength="692" lengthAdjust="spacingAndGlyphs">Registration wavelength,nm</text>
<text x="135.5" y="2194" font-size="55" text-anchor="middle" textLength="431" lengthAdjust="spacingAndGlyphs" transform="rotate(-90 135.5 2194)">FL (relative units)</text>
<text x="911" y="2041" font-size="55" textLength="88" lengthAdjust="spacingAndGlyphs">275</text>
<text x="911" y="2117.5" font-size="55" textLength="88" lengthAdjust="spacingAndGlyphs">310</text>
<text x="911" y="2193.5" font-size="55" textLength="88" lengthAdjust="spacingAndGlyphs">290</text>
</g>
</svg></body></html>
